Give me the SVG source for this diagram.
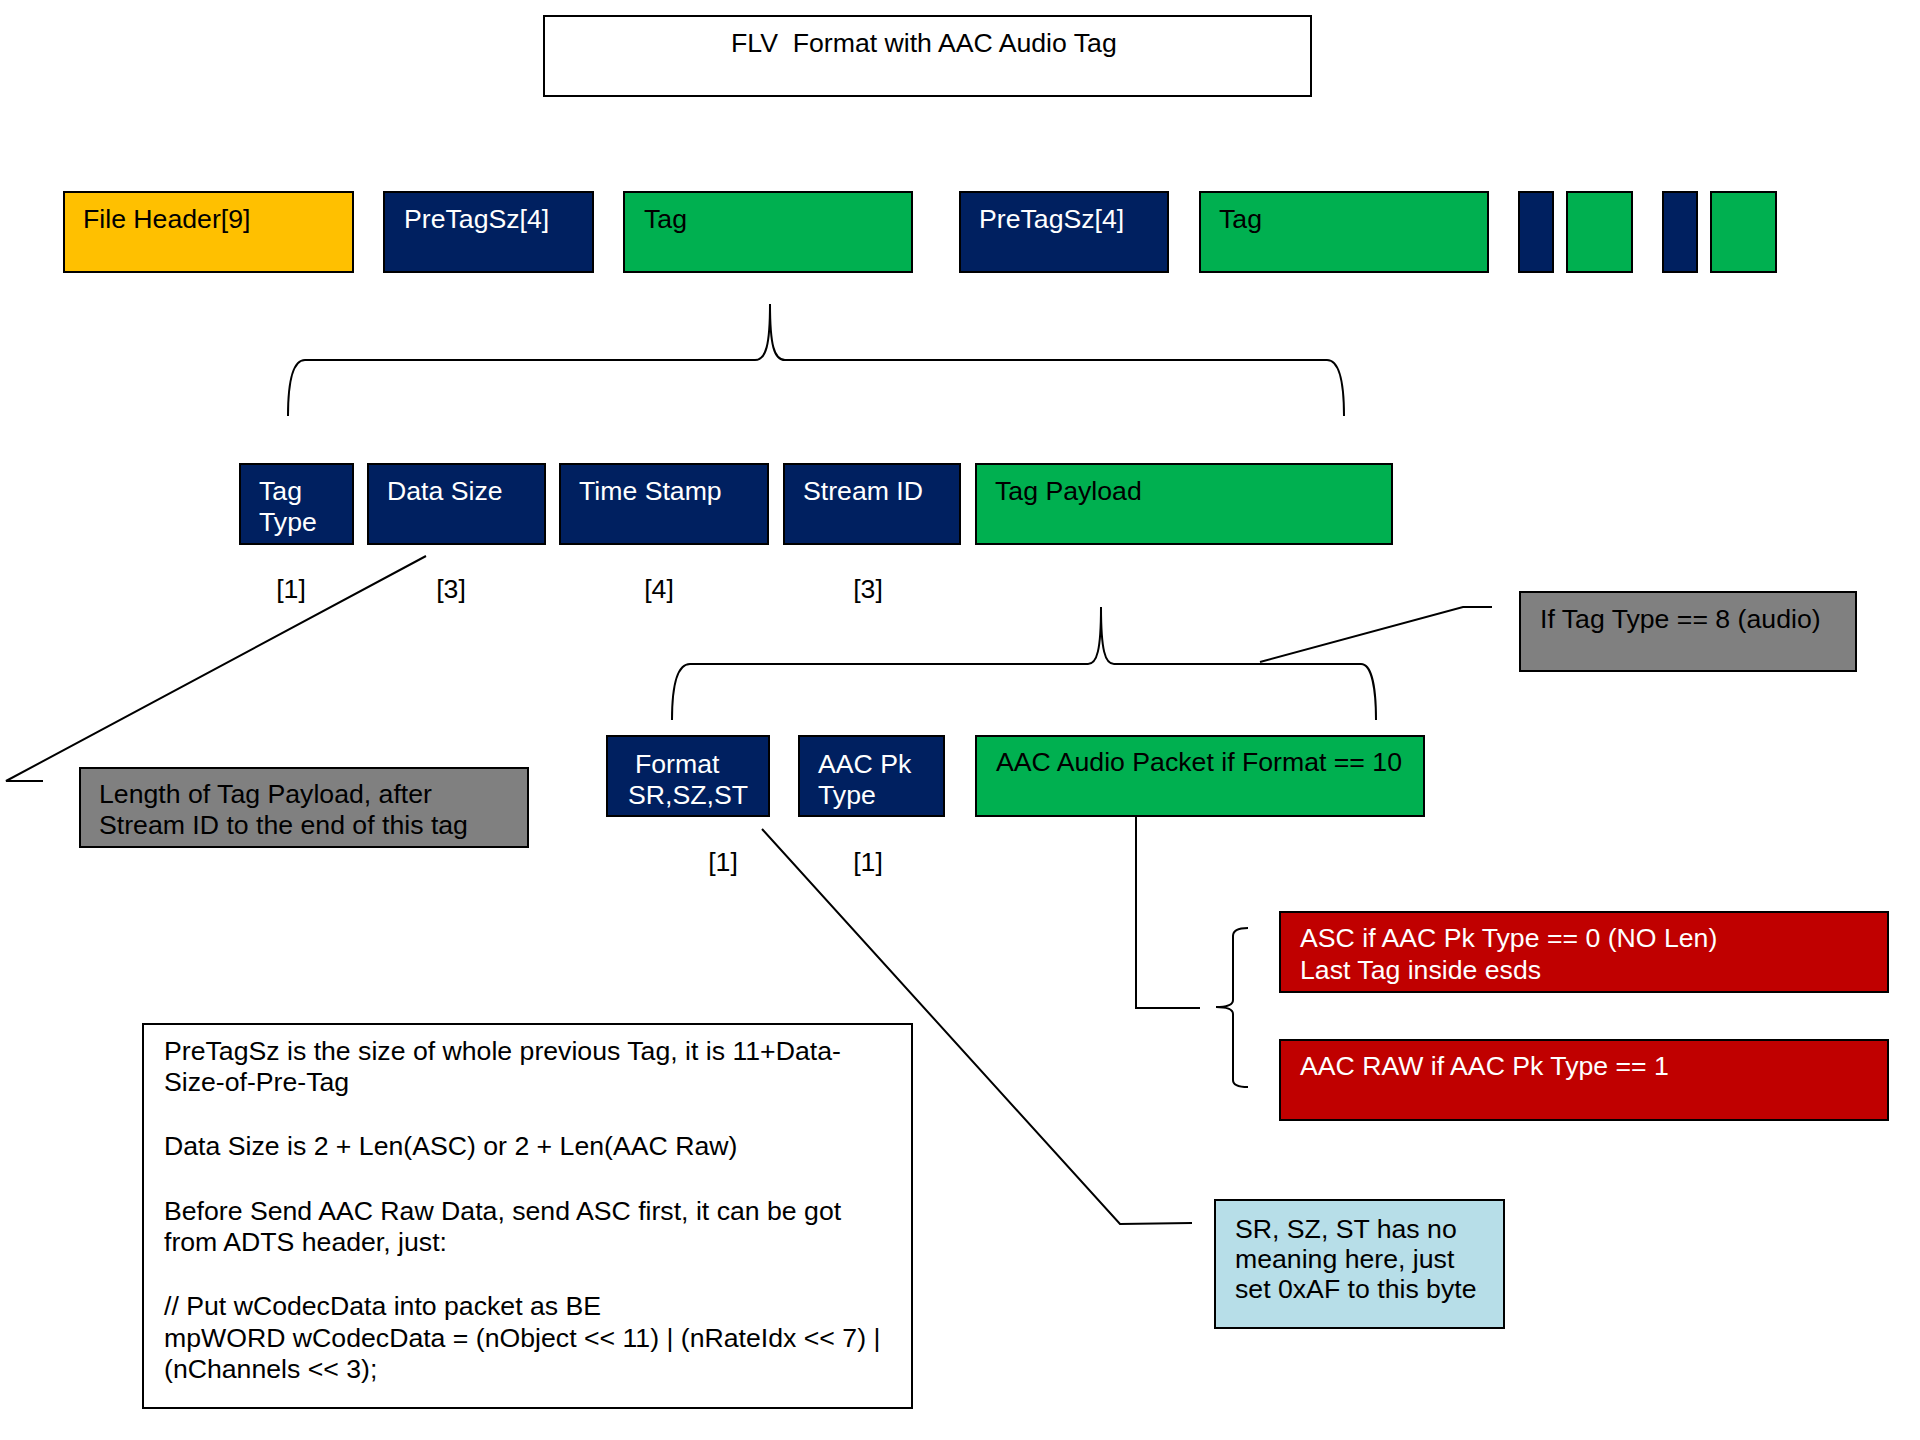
<svg xmlns="http://www.w3.org/2000/svg" width="1920" height="1440" viewBox="0 0 1920 1440">
<style>
.box{stroke:#000;stroke-width:2}
.navy{fill:#002060}
.green{fill:#00B050}
.yellow{fill:#FFC000}
.gray{fill:#808080}
.red{fill:#C00000}
.lblue{fill:#B7DEE8}
.white{fill:#FFFFFF}
text{font-family:"Liberation Sans",Arial,sans-serif;font-size:26.67px;fill:#000}
text.w{fill:#FFFFFF}
.conn{fill:none;stroke:#000;stroke-width:2}
</style>
<rect width="1920" height="1440" fill="#FFFFFF"/>

<g id="title">
<rect class="box white" x="544" y="16" width="767" height="80"/>
<text x="731" y="52" xml:space="preserve">FLV  Format with AAC Audio Tag</text>
</g>

<g id="file-header">
<rect class="box yellow" x="64" y="192" width="289" height="80"/>
<text x="83" y="228">File Header[9]</text>
</g>
<g id="pretagsz-1">
<rect class="box navy" x="384" y="192" width="209" height="80"/>
<text class="w" x="404" y="228">PreTagSz[4]</text>
</g>
<g id="tag-1">
<rect class="box green" x="624" y="192" width="288" height="80"/>
<text x="644" y="228">Tag</text>
</g>
<g id="pretagsz-2">
<rect class="box navy" x="960" y="192" width="208" height="80"/>
<text class="w" x="979" y="228">PreTagSz[4]</text>
</g>
<g id="tag-2">
<rect class="box green" x="1200" y="192" width="288" height="80"/>
<text x="1219" y="228">Tag</text>
</g>
<g id="small-navy-1"><rect class="box navy" x="1519" y="192" width="34" height="80"/></g>
<g id="small-green-1"><rect class="box green" x="1567" y="192" width="65" height="80"/></g>
<g id="small-navy-2"><rect class="box navy" x="1663" y="192" width="34" height="80"/></g>
<g id="small-green-2"><rect class="box green" x="1711" y="192" width="65" height="80"/></g>

<g id="tag-type">
<rect class="box navy" x="240" y="464" width="113" height="80"/>
<text class="w" x="259" y="500">Tag</text>
<text class="w" x="259" y="531">Type</text>
<text x="291" y="598" text-anchor="middle">[1]</text>
</g>
<g id="data-size">
<rect class="box navy" x="368" y="464" width="177" height="80"/>
<text class="w" x="387" y="500">Data Size</text>
<text x="451" y="598" text-anchor="middle">[3]</text>
</g>
<g id="time-stamp">
<rect class="box navy" x="560" y="464" width="208" height="80"/>
<text class="w" x="579" y="500">Time Stamp</text>
<text x="659" y="598" text-anchor="middle">[4]</text>
</g>
<g id="stream-id">
<rect class="box navy" x="784" y="464" width="176" height="80"/>
<text class="w" x="803" y="500">Stream ID</text>
<text x="868" y="598" text-anchor="middle">[3]</text>
</g>
<g id="tag-payload">
<rect class="box green" x="976" y="464" width="416" height="80"/>
<text x="995" y="500">Tag Payload</text>
</g>

<g id="if-tag-type">
<rect class="box gray" x="1520" y="592" width="336" height="79"/>
<text x="1540" y="628">If Tag Type == 8 (audio)</text>
</g>

<g id="length-note">
<rect class="box gray" x="80" y="768" width="448" height="79"/>
<text x="99" y="803">Length of Tag Payload, after</text>
<text x="99" y="834">Stream ID to the end of this tag</text>
</g>

<g id="format">
<rect class="box navy" x="607" y="736" width="162" height="80"/>
<text class="w" x="635" y="773">Format</text>
<text class="w" x="628" y="804">SR,SZ,ST</text>
<text x="723" y="871" text-anchor="middle">[1]</text>
</g>
<g id="aac-pk-type">
<rect class="box navy" x="799" y="736" width="145" height="80"/>
<text class="w" x="818" y="773">AAC Pk</text>
<text class="w" x="818" y="804">Type</text>
<text x="868" y="871" text-anchor="middle">[1]</text>
</g>
<g id="aac-audio-packet">
<rect class="box green" x="976" y="736" width="448" height="80"/>
<text x="996" y="771">AAC Audio Packet if Format == 10</text>
</g>

<g id="asc">
<rect class="box red" x="1280" y="912" width="608" height="80"/>
<text class="w" x="1300" y="947">ASC if AAC Pk Type == 0 (NO Len)</text>
<text class="w" x="1300" y="979">Last Tag inside esds</text>
</g>
<g id="aac-raw">
<rect class="box red" x="1280" y="1040" width="608" height="80"/>
<text class="w" x="1300" y="1075">AAC RAW if AAC Pk Type == 1</text>
</g>

<g id="sr-note">
<rect class="box lblue" x="1215" y="1200" width="289" height="128"/>
<text x="1235" y="1238">SR, SZ, ST has no</text>
<text x="1235" y="1268">meaning here, just</text>
<text x="1235" y="1298">set 0xAF to this byte</text>
</g>

<g id="notes">
<rect class="box white" x="143" y="1024" width="769" height="384"/>
<text x="164" y="1060">PreTagSz is the size of whole previous Tag, it is 11+Data-</text>
<text x="164" y="1091">Size-of-Pre-Tag</text>
<text x="164" y="1155">Data Size is 2 + Len(ASC) or 2 + Len(AAC Raw)</text>
<text x="164" y="1220">Before Send AAC Raw Data, send ASC first, it can be got</text>
<text x="164" y="1251">from ADTS header, just:</text>
<text x="164" y="1315">// Put wCodecData into packet as BE</text>
<text x="164" y="1347">mpWORD wCodecData = (nObject &lt;&lt; 11) | (nRateIdx &lt;&lt; 7) |</text>
<text x="164" y="1378">(nChannels &lt;&lt; 3);</text>
</g>

<g id="connectors">
<path class="conn" d="M 288 416 C 288 385 292 360 305 360 L 755 360 C 766 360 770 345 770 304 C 770 345 774 360 785 360 L 1327 360 C 1340 360 1344 385 1344 416"/>
<path class="conn" d="M 672 720 C 672 690 676 664 690 664 L 1088 664 C 1097 664 1101 650 1101 607 C 1101 650 1105 664 1114 664 L 1361 664 C 1372 664 1376 690 1376 720"/>
<path class="conn" d="M 1492 607 L 1463 607 L 1260 662"/>
<path class="conn" d="M 426 556 L 6 781 L 43 781"/>
<path class="conn" d="M 1136 816 L 1136 1008 L 1200 1008"/>
<path class="conn" d="M 1248 928 Q 1233 928 1233 936 L 1233 1000 Q 1233 1007 1216 1007 Q 1233 1007 1233 1014 L 1233 1080 Q 1233 1087 1248 1087"/>
<path class="conn" d="M 762 829 L 1120 1224 L 1192 1223"/>
</g>
</svg>
